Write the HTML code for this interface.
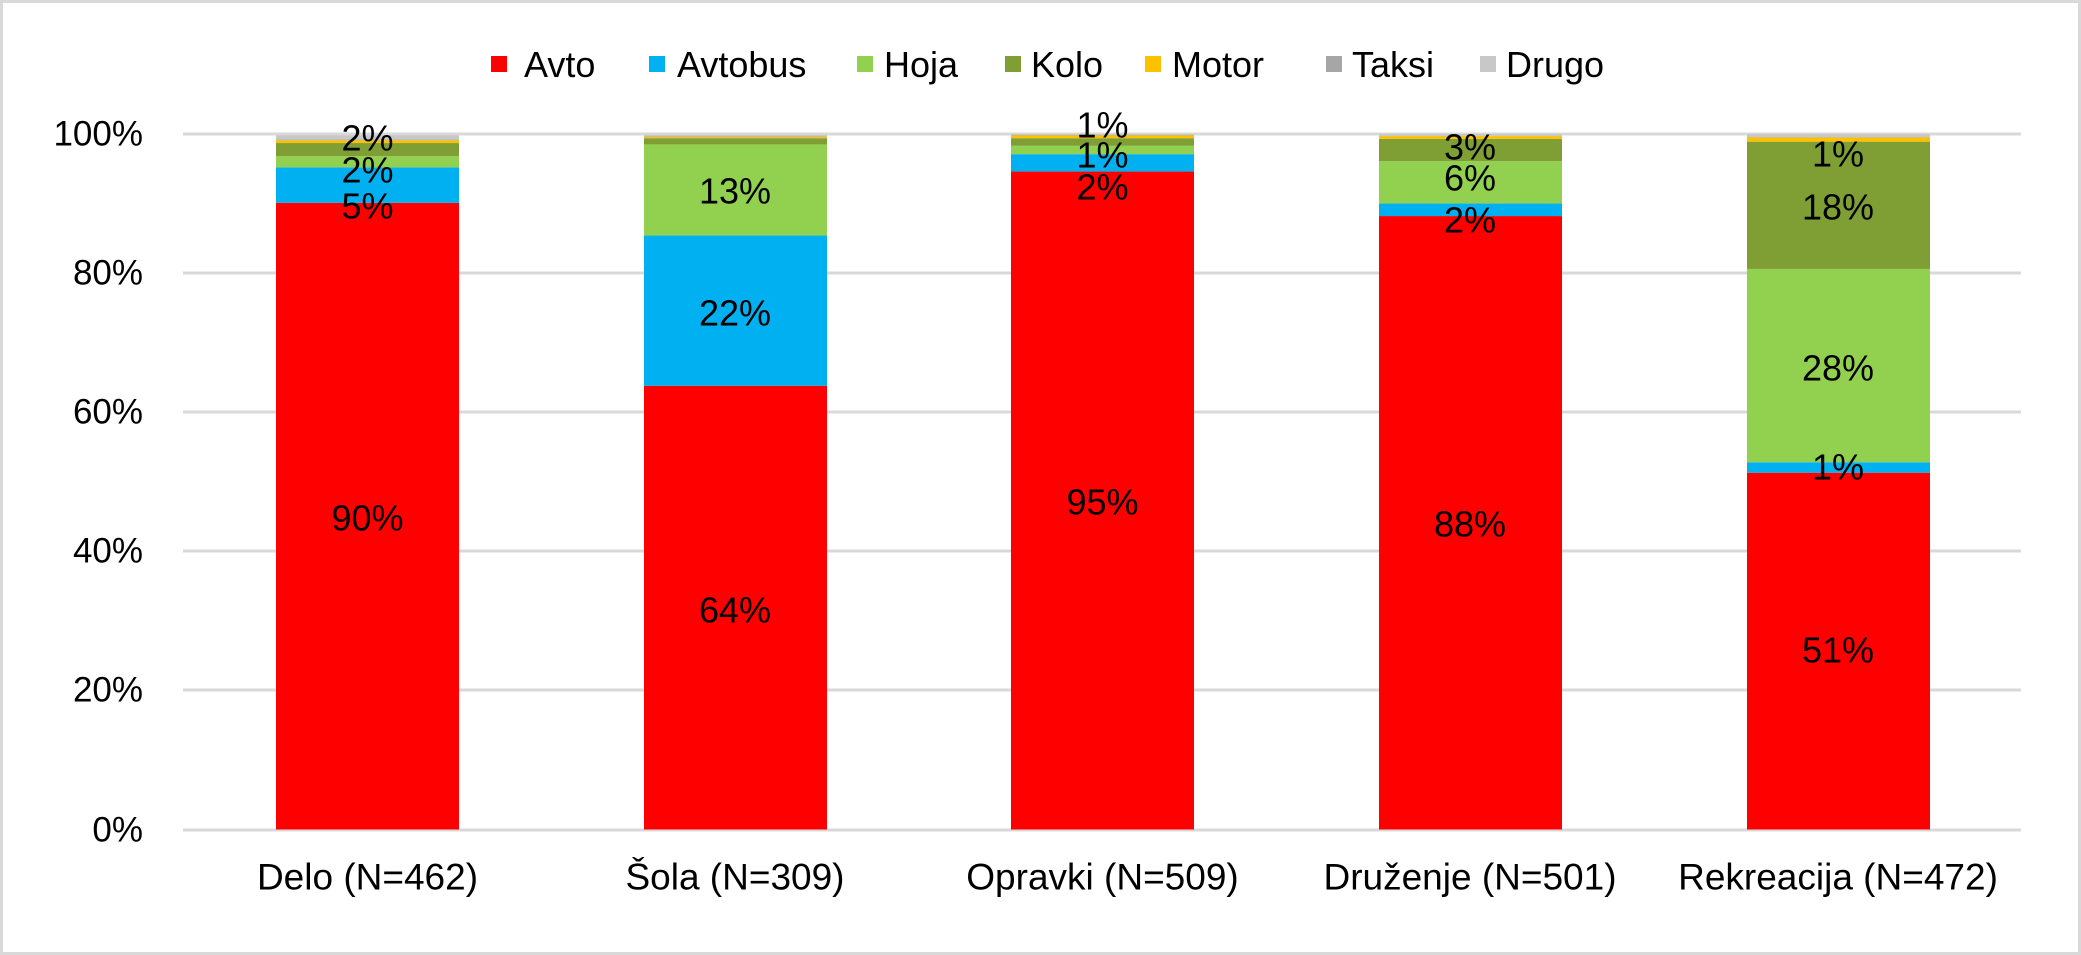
<!DOCTYPE html>
<html><head><meta charset="utf-8"><style>
html,body{margin:0;padding:0;background:#fff}
svg{display:block}
text{font-family:"Liberation Sans",sans-serif;fill:#000}
</style></head><body>
<svg id="s" width="2081" height="955" viewBox="0 0 2081 955" xmlns="http://www.w3.org/2000/svg">
<rect x="1.5" y="1.5" width="2078" height="952" fill="#fff" stroke="#d9d9d9" stroke-width="3"/>
<g stroke="#d9d9d9" stroke-width="3">
<line x1="183" x2="2021" y1="134" y2="134"/>
<line x1="183" x2="2021" y1="273" y2="273"/>
<line x1="183" x2="2021" y1="412" y2="412"/>
<line x1="183" x2="2021" y1="551" y2="551"/>
<line x1="183" x2="2021" y1="690" y2="690"/>
<line x1="183" x2="2021" y1="830" y2="830"/>
</g>
<g id="bars"></g>
<g font-size="35" text-anchor="end" dominant-baseline="central">
<text x="143" y="134">100%</text>
<text x="143" y="273">80%</text>
<text x="143" y="412">60%</text>
<text x="143" y="551">40%</text>
<text x="143" y="690">20%</text>
<text x="143" y="830">0%</text>
</g>
<g font-size="37" text-anchor="middle" dominant-baseline="central">
<text x="367.5" y="877">Delo (N=462)</text>
<text x="735" y="877">Šola (N=309)</text>
<text x="1102.5" y="877">Opravki (N=509)</text>
<text x="1470" y="877">Druženje (N=501)</text>
<text x="1838" y="877">Rekreacija (N=472)</text>
</g>
<g font-size="36">
<rect x="491" y="56" width="16" height="16" fill="#ff0000"/><text x="524" y="77">Avto</text>
<rect x="649" y="56" width="16" height="16" fill="#00b0f0"/><text x="677" y="77">Avtobus</text>
<rect x="857" y="56" width="16" height="16" fill="#92d050"/><text x="884" y="77">Hoja</text>
<rect x="1005" y="56" width="16" height="16" fill="#7f9f35"/><text x="1031" y="77">Kolo</text>
<rect x="1145" y="56" width="16" height="16" fill="#ffc000"/><text x="1172" y="77">Motor</text>
<rect x="1326" y="56" width="16" height="16" fill="#a6a6a6"/><text x="1352" y="77">Taksi</text>
<rect x="1480" y="56" width="16" height="16" fill="#c8c8c8"/><text x="1506" y="77">Drugo</text>
</g>
<g id="labels" font-size="36" text-anchor="middle" dominant-baseline="central">
<text x="367.5" y="518">90%</text><text x="367.5" y="206">5%</text><text x="367.5" y="170">2%</text><text x="367.5" y="138">2%</text>
<text x="735" y="610">64%</text><text x="735" y="313">22%</text><text x="735" y="191">13%</text>
<text x="1102.5" y="502">95%</text><text x="1102.5" y="187">2%</text><text x="1102.5" y="155">1%</text><text x="1102.5" y="125">1%</text>
<text x="1470" y="524">88%</text><text x="1470" y="220">2%</text><text x="1470" y="178">6%</text><text x="1470" y="147">3%</text>
<text x="1838" y="650">51%</text><text x="1838" y="467">1%</text><text x="1838" y="368">28%</text><text x="1838" y="207">18%</text><text x="1838" y="154">1%</text>
</g>
<script>
(function(){
var cols=["#ff0000","#00b0f0","#92d050","#7f9f35","#ffc000","#a6a6a6","#c8c8c8"];
var data=[
 [90.1,95.2,96.8,98.7,99.1,99.2,99.8],
 [63.8,85.4,98.5,99.4,99.6,99.7,99.9],
 [94.6,97.1,98.3,99.4,99.8,99.85,100],
 [88.2,90.0,96.1,99.3,99.7,99.75,100],
 [51.3,52.8,80.6,98.9,99.5,99.55,100]
];
var xs=[276,644,1011,1379,1747];
var y=function(p){return 829.5-6.955*p;};
var g=document.getElementById('bars'),ns="http://www.w3.org/2000/svg";
data.forEach(function(d,i){var prev=0;d.forEach(function(t,k){
 var r=document.createElementNS(ns,'rect');
 r.setAttribute('x',xs[i]);r.setAttribute('width',183);
 r.setAttribute('y',y(t));r.setAttribute('height',Math.max(0,y(prev)-y(t)));
 r.setAttribute('fill',cols[k]);g.appendChild(r);prev=t;});});
})();
</script>
</svg>
</body></html>
